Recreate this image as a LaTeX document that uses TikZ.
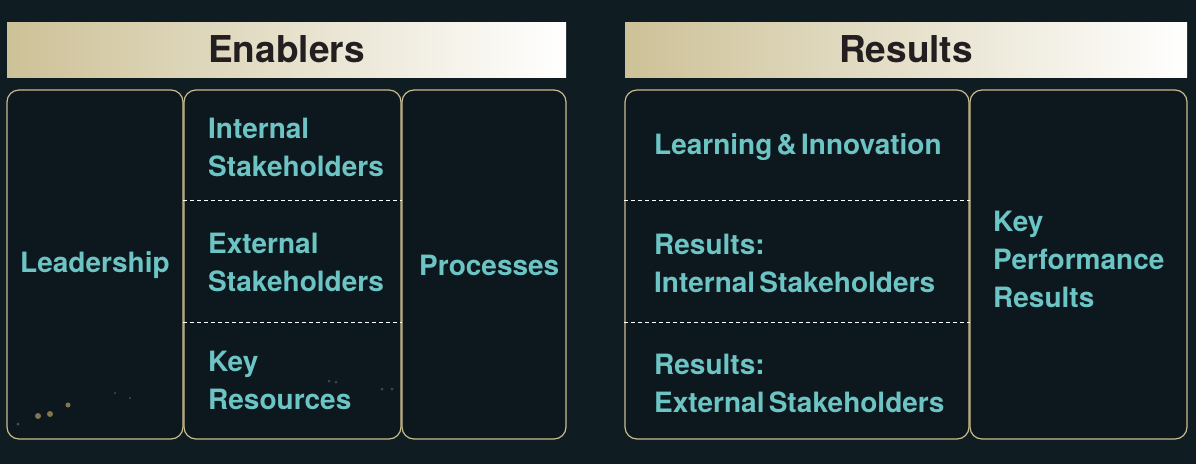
\documentclass[tikz,border=0pt]{standalone}
\usepackage{fontspec}
\setmainfont{TeX Gyre Heros}
\newfontfamily\labelfont[WordSpace=0.55]{TeX Gyre Heros}
\usetikzlibrary{positioning}

\definecolor{bgdark}{HTML}{0F1D23}
\definecolor{panelfill}{HTML}{0C181D}
\definecolor{panelline}{HTML}{C9BC8E}
\definecolor{tealtext}{HTML}{6CC4C4}
\definecolor{headgold}{HTML}{CDC197}
\definecolor{headtext}{HTML}{231F20}
\definecolor{dotgold}{HTML}{A08E5E}

\begin{document}
\begin{tikzpicture}[x=1pt, y=-1pt,
    panel/.style={draw=panelline, line width=1.2pt, rounded corners=12pt, fill=panelfill,
                  minimum height=349pt, inner sep=0pt},
    header/.style={left color=headgold, right color=white, text=headtext, inner sep=0pt,
                   minimum height=55pt, font=\fontsize{37}{40}\selectfont\bfseries},
    label/.style={text=tealtext, font=\labelfont\fontsize{28}{38}\selectfont\bfseries,
                  align=left, anchor=west, inner sep=0pt},
    divider/.style={draw=white, dash pattern=on 4pt off 3pt, line width=0.8pt}]

    % Draw the background
    \fill[bgdark] (0,0) rectangle (1196,464);
    \useasboundingbox (0,0) rectangle (1196,464);

    % Draw the two title bars
    \node[header, minimum width=559pt] (enablers) at (286.5, 49.5) {Enablers};
    \node[header, minimum width=562pt] (results) at (906, 49.5) {Results};

    % Draw the enabler boxes
    \node[panel, minimum width=176pt] (lead) at (95, 264.5) {};
    \node[panel, minimum width=217pt] (stake) at (292.5, 264.5) {};
    \node[panel, minimum width=164pt] (proc) at (484, 264.5) {};

    % Draw the result boxes
    \node[panel, minimum width=344pt] (res) at (797, 264.5) {};
    \node[panel, minimum width=217pt] (kpr) at (1078.5, 264.5) {};

    % Draw the dashed lines between the rows
    \draw[divider] (stake.west |- 0,200) -- (stake.east |- 0,200);
    \draw[divider] (stake.west |- 0,322) -- (stake.east |- 0,322);
    \draw[divider] (res.west |- 0,200) -- (res.east |- 0,200);
    \draw[divider] (res.west |- 0,322) -- (res.east |- 0,322);

    % Enabler labels
    \node[label] (leadtxt) at (20, 265) {Leadership};
    \node[label] (inttxt) at (208, 147) {Internal\\Stakeholders};
    \node[label] (exttxt) at (208, 262) {External\\Stakeholders};
    \node[label] (keytxt) at (208, 380) {Key\\Resources};
    \node[label] (proctxt) at (419, 265) {Processes};

    % Result labels
    \node[label] (learntxt) at (654, 147) {Learning \& Innovation};
    \node[label] (rinttxt) at (654, 263) {Results:\\Internal Stakeholders};
    \node[label] (rexttxt) at (654, 383) {Results:\\External Stakeholders};
    \node[label] (kprtxt) at (993, 259) {Key\\Performance\\Results};

    % Small gold dots
    \fill[dotgold, opacity=0.8] (38,416) circle (3) (50,414) circle (3) (68,405) circle (2.5);
    \fill[dotgold, opacity=0.5] (18,424) circle (1.5) (115,393) circle (1) (130,398) circle (1);
    \fill[dotgold, opacity=0.4] (382,389) circle (1.5) (392,389) circle (1.5) (336,382) circle (1.5) (329,381) circle (1.5);
\end{tikzpicture}
\end{document}
